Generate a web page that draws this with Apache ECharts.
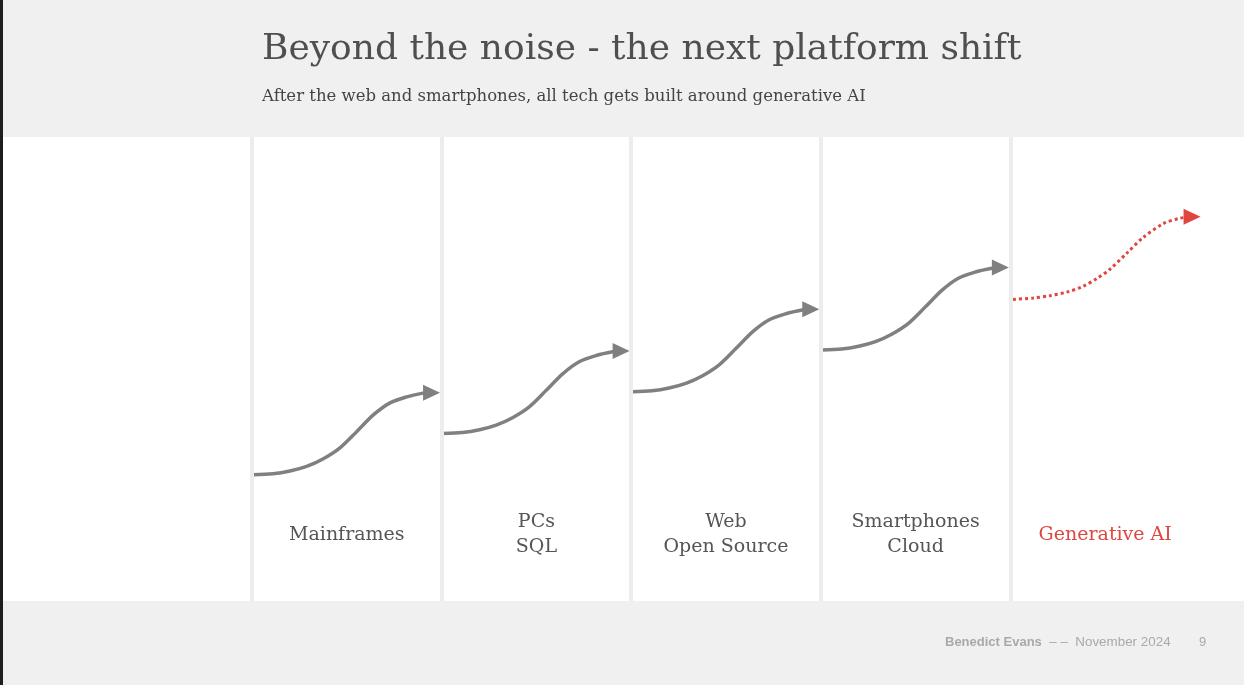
<!DOCTYPE html>
<html><head><meta charset="utf-8">
<script src="https://cdn.jsdelivr.net/npm/echarts@6/dist/echarts.min.js"></script>
<style>html,body{margin:0;padding:0;background:#f0f0f0}#c{width:1244px;height:685px}</style>
</head><body><div id="c"></div>
<script>
// ---- data (x: era index + position within era, y: relative adoption level 0-100) ----
const eras = ['Mainframes', 'PCs\nSQL', 'Web\nOpen Source', 'Smartphones\nCloud', 'Generative AI'];
const eraBoundaries = [0, 1, 2, 3, 4];
const mainframes  = [[0.005,27.2],[0.11,27.4],[0.2,28.0],[0.288,29.0],[0.374,30.6],[0.464,33.0],[0.552,36.5],[0.64,40.1],[0.728,42.7],[0.816,44.0],[0.902,44.8],[0.947,44.9]];
const pcs         = [[1.005,36.1],[1.11,36.3],[1.2,36.9],[1.288,37.9],[1.374,39.5],[1.464,41.9],[1.552,45.4],[1.64,49.0],[1.728,51.6],[1.816,52.9],[1.902,53.7],[1.947,53.9]];
const web         = [[2.005,45.1],[2.11,45.3],[2.2,45.9],[2.288,46.9],[2.374,48.5],[2.464,50.9],[2.552,54.4],[2.64,58.0],[2.728,60.6],[2.816,61.9],[2.902,62.7],[2.947,62.9]];
const smartphones = [[3.005,54.1],[3.11,54.3],[3.2,54.9],[3.288,55.9],[3.374,57.5],[3.464,59.9],[3.552,63.4],[3.64,67.0],[3.728,69.6],[3.816,70.9],[3.902,71.7],[3.947,71.9]];
const generativeAI= [[4.014,65.0],[4.12,65.3],[4.209,65.8],[4.3,66.6],[4.383,67.8],[4.46,69.6],[4.525,71.5],[4.615,75.0],[4.699,78.3],[4.805,81.3],[4.895,82.5],[4.958,82.8]];
const titleText = 'Beyond the noise - the next platform shift';
const subtitleText = 'After the web and smartphones, all tech gets built around generative AI';

const GREY = '#808080', RED = '#e0463e';
const SERIF = '"DejaVu Serif", serif';
const SANS = '"Liberation Sans", Arial, sans-serif';

function withArrow(points, color) {
  return points.map((p, i) => i === points.length - 1
    ? { value: p, symbol: 'triangle', symbolSize: [16, 17], symbolRotate: -90, itemStyle: { color } }
    : { value: p, symbol: 'none' });
}
function curve(name, points, color, type) {
  return {
    name, type: 'line', xAxisIndex: 0, yAxisIndex: 0, z: 3,
    data: withArrow(points, color), smooth: 0.3,
    showSymbol: true, symbol: 'none', silent: true, animation: false,
    lineStyle: { color, width: type === 'dotted' ? 3 : 3.5, type: type || 'solid', cap: 'butt' },
    itemStyle: { color }
  };
}

const chart = echarts.init(document.getElementById('c'), null, { renderer: 'canvas' });
chart.setOption({
  backgroundColor: '#f0f0f0',
  animation: false,
  graphic: [
    { type: 'rect', z: -10, shape: { x: 3, y: 137, width: 1241, height: 464 }, style: { fill: '#ffffff' } },
    { type: 'rect', z: -9, shape: { x: 0, y: 0, width: 3, height: 685 }, style: { fill: '#1e1e1e' } }
  ],
  title: [
    { text: titleText, subtext: subtitleText, left: 257, top: 27, itemGap: 20,
      textStyle: { fontFamily: SERIF, fontSize: 36, fontWeight: 'normal', color: '#4f4f4f' },
      subtextStyle: { fontFamily: SERIF, fontSize: 16.5, color: '#444444' } },
    { text: '{b|Benedict Evans}{r|  – –  November 2024}', left: 945, top: 636, padding: 0,
      textStyle: { fontWeight: 'normal', rich: {
        b: { fontFamily: SANS, fontSize: 13, fontWeight: 'bold', color: '#a9a9a9' },
        r: { fontFamily: SANS, fontSize: 13.4, fontWeight: 'normal', color: '#a9a9a9' } } } },
    { text: '9', left: 1199, top: 636, padding: 0,
      textStyle: { fontFamily: SANS, fontSize: 13, fontWeight: 'normal', color: '#a9a9a9' } }
  ],
  grid: { left: 252, width: 948, top: 137, bottom: 84, containLabel: false },
  xAxis: [
    { type: 'value', min: 0, max: 5, show: false },
    { type: 'category', data: eras, position: 'bottom', boundaryGap: true,
      axisLine: { show: false }, axisTick: { show: false }, splitLine: { show: false },
      axisLabel: { inside: true, margin: 66, verticalAlign: 'middle', interval: 0,
        fontFamily: SERIF, fontSize: 19, lineHeight: 25, align: 'center',
        color: (v, i) => (i === eras.length - 1 ? RED : '#555555') } }
  ],
  yAxis: { type: 'value', min: 0, max: 100, show: false },
  series: [
    { name: 'separators', type: 'line', data: [], z: 1, silent: true,
      markLine: { silent: true, symbol: ['none', 'none'], label: { show: false },
        lineStyle: { color: '#ededed', width: 4, type: 'solid' },
        emphasis: { disabled: true },
        data: eraBoundaries.map(v => ({ xAxis: v })) } },
    curve('Mainframes', mainframes, GREY),
    curve('PCs', pcs, GREY),
    curve('Web', web, GREY),
    curve('Smartphones', smartphones, GREY),
    curve('Generative AI', generativeAI, RED, 'dotted')
  ]
});
</script></body></html>
